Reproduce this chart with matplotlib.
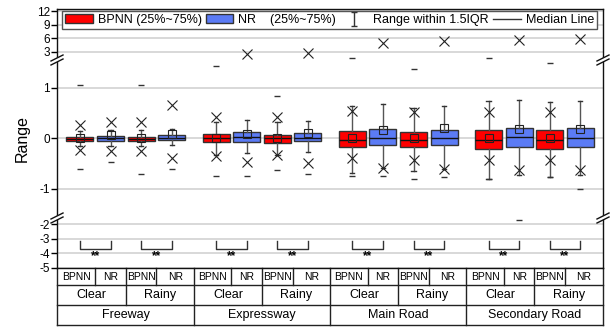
import numpy as np
import matplotlib
matplotlib.use('Agg')
import matplotlib.pyplot as plt
import matplotlib.transforms as mtransforms
from matplotlib.patches import Patch, Polygon
from matplotlib.lines import Line2D
from matplotlib.path import Path

plt.rcParams['font.family'] = ['Liberation Sans', 'DejaVu Sans']

# categories
roads = ['Freeway', 'Expressway', 'Main Road', 'Secondary Road']
weathers = ['Clear', 'Rainy']
models = ['BPNN', 'NR']

# box order: road -> weather -> model (BPNN, NR)
q1 = [-0.055, -0.045, -0.06, -0.03, -0.08, -0.07, -0.09, -0.06,
      -0.18, -0.14, -0.17, -0.13, -0.21, -0.17, -0.21, -0.17]
q3 = [0.035, 0.05, 0.035, 0.06, 0.09, 0.12, 0.07, 0.11,
      0.14, 0.19, 0.13, 0.17, 0.17, 0.21, 0.17, 0.20]
median = [-0.01, 0.0, -0.02, 0.01, 0.0, 0.02, 0.0, 0.01,
          -0.03, 0.01, -0.03, 0.01, -0.03, 0.02, -0.03, 0.01]
mean = [0.01, 0.07, 0.01, 0.08, 0.0, 0.08, 0.0, 0.10,
        0.0, 0.16, 0.0, 0.20, 0.0, 0.18, 0.0, 0.18]
whis_lo = [-0.16, -0.16, -0.16, -0.14, -0.33, -0.30, -0.33, -0.28,
           -0.68, -0.58, -0.64, -0.60, -0.80, -0.73, -0.76, -0.73]
whis_hi = [0.14, 0.16, 0.16, 0.18, 0.32, 0.36, 0.32, 0.34,
           0.64, 0.68, 0.60, 0.64, 0.75, 0.77, 0.72, 0.75]
# "x" markers
cross_hi = [0.27, 0.33, 0.32, 0.67, 0.43, 2.56, 0.43, 2.78,
            0.54, 4.98, 0.53, 5.41, 0.52, 5.63, 0.52, 5.85]
cross_lo = [-0.24, -0.26, -0.25, -0.38, -0.34, -0.46, -0.33, -0.48,
            -0.38, -0.58, -0.43, -0.60, -0.43, -0.62, -0.42, -0.63]
# "-" markers
dash_hi = [1.05, np.nan, 1.05, np.nan, 1.43, np.nan, 0.85, np.nan,
           1.90, np.nan, 1.38, np.nan, 1.90, np.nan, 1.50, np.nan]
dash_lo = [-0.61, -0.47, -0.71, -0.61, -0.75, -0.75, -0.62, -0.70,
           -0.74, -0.74, -0.80, -0.77, -0.80, -1.75, -0.76, -1.01]

yticks = [-5, -4, -3, -2, -1, 0, 1, 3, 6, 9, 12]

red = '#ff0000'
blue = '#5b7bf5'
edge = '#333333'

# broken axis as a piecewise linear scale
seg_vals = [-5, -1.58, 1.555, 3, 12.44]
seg_pos = [0, 50, 208, 216, 259]


def _lin(v, xs, ys):
    v = np.asarray(v, dtype=float)
    out = np.interp(v, xs, ys)
    s0 = (ys[1] - ys[0]) / (xs[1] - xs[0])
    s1 = (ys[-1] - ys[-2]) / (xs[-1] - xs[-2])
    out = np.where(v < xs[0], ys[0] + (v - xs[0]) * s0, out)
    out = np.where(v > xs[-1], ys[-1] + (v - xs[-1]) * s1, out)
    return out


def fwd(v):
    return _lin(v, seg_vals, seg_pos)


def inv(p):
    return _lin(p, seg_pos, seg_vals)


fig = plt.figure(figsize=(6.13, 3.28), dpi=100)
ax = fig.add_axes([57 / 613, 60 / 328, 546 / 613, 259 / 328])
ax.set_yscale('function', functions=(fwd, inv))

n = len(q1)
pos = [g * 4.45 + j for g in range(len(roads)) for j in range(4)]
colors = [red if k % 2 == 0 else blue for k in range(n)]

stats = []
for k in range(n):
    stats.append(dict(med=median[k], q1=q1[k], q3=q3[k], whislo=whis_lo[k],
                      whishi=whis_hi[k], mean=mean[k], fliers=[]))

bp = ax.bxp(stats, positions=pos, widths=0.88, patch_artist=True,
            showmeans=True, showfliers=False, capwidths=0.14,
            boxprops=dict(edgecolor=edge, linewidth=1),
            medianprops=dict(color='#111111', linewidth=1),
            whiskerprops=dict(color='#555555', linewidth=1),
            capprops=dict(color='#333333', linewidth=1),
            meanprops=dict(marker='s', markerfacecolor='none',
                           markeredgecolor='#222222', markersize=6,
                           markeredgewidth=0.8))
for patch, c in zip(bp['boxes'], colors):
    patch.set_facecolor(c)

ax.plot(pos, cross_hi, 'x', ms=7, mew=0.8, color='#222222', zorder=4)
ax.plot(pos, cross_lo, 'x', ms=7, mew=0.8, color='#222222', zorder=4)
ax.plot(pos, dash_hi, '_', ms=5, mew=1, color='#333333', zorder=4)
ax.plot(pos, dash_lo, '_', ms=5, mew=1, color='#333333', zorder=4)

# significance brackets
for k in range(0, n, 2):
    xa, xb = pos[k], pos[k + 1]
    ax.plot([xa, xa, xb, xb], [-3.16, -3.7, -3.7, -3.16], color='#333333', lw=1)
    ax.text((xa + xb) / 2, -3.78, '**', ha='center', va='top',
            fontsize=8.5, fontweight='bold')

xlim = (-0.75, 17.09)
ax.set_xlim(*xlim)
ax.set_ylim(-5, 12.44)
ax.set_yticks(yticks)
ax.set_yticklabels([str(t) for t in yticks], fontsize=8.5)
ax.set_xticks([])
ax.tick_params(axis='y', direction='out', length=4, width=1, pad=1)
ax.yaxis.grid(True, color='#d2d2d2', lw=1.2)
ax.set_axisbelow(True)
for s in ax.spines.values():
    s.set_linewidth(1)
    s.set_color('#111111')
ax.set_ylabel('Range', fontsize=11.5)
ax.yaxis.set_label_coords(-0.05, 0.5)

# break marks on both spines
for ya in (fwd(1.555) / 259.0, fwd(-1.58) / 259.0):
    for xa in (0.0, 1.0):
        hw, hh, gap = 6 / 546, 3 / 259, 2 / 259
        pts = [(xa - hw, ya - hh - gap), (xa + hw, ya + hh - gap),
               (xa + hw, ya + hh + gap), (xa - hw, ya - hh + gap)]
        ax.add_patch(Polygon(pts, closed=True, transform=ax.transAxes,
                             facecolor='white', edgecolor='none',
                             clip_on=False, zorder=10))
        for off in (-gap, gap):
            ax.add_line(Line2D([xa - hw, xa + hw], [ya - hh + off, ya + hh + off],
                               transform=ax.transAxes, color='#111111', lw=1,
                               clip_on=False, zorder=11))

# legend
whisk_path = Path([(-0.5, -1), (0.5, -1), (0, -1), (0, 1), (-0.5, 1), (0.5, 1)],
                  [Path.MOVETO, Path.LINETO, Path.MOVETO, Path.LINETO,
                   Path.MOVETO, Path.LINETO])
handles = [Patch(facecolor=red, edgecolor=edge),
           Patch(facecolor=blue, edgecolor=edge),
           Line2D([], [], ls='none', marker=whisk_path, markersize=10,
                  markeredgecolor='#333333', markerfacecolor='none', mew=1),
           Line2D([], [], color='#333333', lw=1)]
labels = ['BPNN (25%~75%)', 'NR    (25%~75%)', 'Range within 1.5IQR', 'Median Line']
leg = ax.legend(handles, labels, ncol=4, loc='upper left',
                bbox_to_anchor=(0.009, 0.993, 0.98, 0), mode='expand',
                borderaxespad=0, fontsize=9, fancybox=False, framealpha=1,
                edgecolor='#555555', handlelength=2.2, handletextpad=0.4,
                borderpad=0.25, columnspacing=0.8)
leg.get_frame().set_linewidth(1)

# category table under the axis
trans = mtransforms.blended_transform_factory(ax.transData, ax.transAxes)
edges = [xlim[0]] + [(pos[k] + pos[k + 1]) / 2 for k in range(n - 1)] + [xlim[1]]
rows = [0, -17 / 259, -37 / 259, -57 / 259]
tline = dict(transform=trans, color='#222222', lw=1, clip_on=False)
for r in rows[1:]:
    ax.add_line(Line2D([xlim[0], xlim[1]], [r, r], **tline))
for i, e in enumerate(edges):
    if i == 0 or i == n or i % 4 == 0:
        bottom = rows[3]
    elif i % 2 == 0:
        bottom = rows[2]
    else:
        bottom = rows[1]
    ax.add_line(Line2D([e, e], [0, bottom], **tline))

for k in range(n):
    ax.text((edges[k] + edges[k + 1]) / 2, (rows[0] + rows[1]) / 2,
            models[k % 2], transform=trans, ha='center', va='center', fontsize=7.5)
for k in range(0, n, 2):
    ax.text((edges[k] + edges[k + 2]) / 2, (rows[1] + rows[2]) / 2,
            weathers[(k // 2) % 2], transform=trans, ha='center', va='center', fontsize=9)
for g in range(len(roads)):
    ax.text((edges[4 * g] + edges[4 * g + 4]) / 2, (rows[2] + rows[3]) / 2,
            roads[g], transform=trans, ha='center', va='center', fontsize=9)

fig.savefig('out.png', dpi=100)
